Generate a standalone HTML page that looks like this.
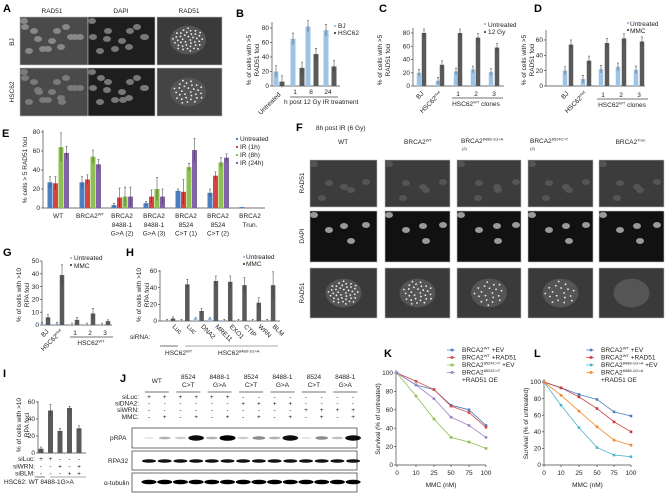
<!DOCTYPE html>
<html><head><meta charset="utf-8"><style>
body{margin:0;background:#fff;}
svg{display:block;font-family:"Liberation Sans",sans-serif;}
</style></head><body>
<svg id="s" width="667" height="493" viewBox="0 0 667 493" xmlns="http://www.w3.org/2000/svg" font-size="6.5" fill="#222">
</svg>
<script>
const S=document.getElementById('s');let h='';
function t(x,y,s,o={}){h+=`<text x="${x}" y="${y}" font-size="${o.fs||6.5}" ${o.b?'font-weight="bold"':''} text-anchor="${o.a||'start'}" ${o.r?`transform="rotate(${o.r} ${x} ${y})"`:''} fill="${o.c||'#222'}">${s}</text>`;}
function sp(b,s,after=''){return `${b}<tspan font-size="4" dy="-2.5">${s}</tspan><tspan dy="2.5">${after}</tspan>`;}
function L(x1,y1,x2,y2,c='#444',w=0.7){h+=`<line x1="${x1}" y1="${y1}" x2="${x2}" y2="${y2}" stroke="${c}" stroke-width="${w}"/>`;}
function R(x,y,w,hh,c,st=''){h+=`<rect x="${x}" y="${y}" width="${w}" height="${hh}" fill="${c}" ${st}/>`;}
function P(l){t(l[1],l[2],l[0],{fs:11,b:1,c:'#000'});}
function axis(x,y0,ytop,ticks,scale,xend){L(x,y0,x,ytop);L(x,y0,xend,y0);ticks.forEach(v=>{let y=y0-v*scale;L(x-2,y,x,y);t(x-3,y+2.2,v,{a:'end'});});}
function bar(x,y0,v,scale,c,w=5,e=3){R(x-w/2,y0-v*scale,w,v*scale,c);if(e){L(x,y0-v*scale-e*scale,x,y0-v*scale+e*scale,'#333',0.5);L(x-1,y0-v*scale-e*scale,x+1,y0-v*scale-e*scale,'#333',0.5);}}
const LB='#9dc3e6',DG='#5a5a5a';
function img(x,y,w,hh,bg,n,cells){R(x,y,w,hh,bg,'stroke="#bbb" stroke-width="0.6"');for(let i=0;i<n;i++){let cx=x+4+((i*37)%(w-8)),cy=y+4+((i*23+i*i*3)%(hh-8));h+=`<ellipse cx="${cx}" cy="${cy}" rx="4" ry="3" fill="${cells}"/>`;}}
function foci(x,y,w,hh,bg,n,cx,cy,r){R(x,y,w,hh,bg,'stroke="#bbb" stroke-width="0.6"');h+=`<ellipse cx="${cx}" cy="${cy}" rx="${r}" ry="${r*0.8}" fill="#555"/>`;for(let i=0;i<n;i++){let a=i*2.4,rr=r*0.85*Math.sqrt((i+1)/n);h+=`<circle cx="${cx+rr*Math.cos(a)}" cy="${cy+rr*Math.sin(a)*0.8}" r="0.9" fill="#eee"/>`;}}
// A
P(['A',3,12]);t(52,13,'RAD51',{a:'middle'});t(121,13,'DAPI',{a:'middle'});t(189,13,'RAD51',{a:'middle'});
t(14,42,'BJ',{a:'middle',r:-90});t(14,92,'HSC62',{a:'middle',r:-90});
img(20,17,68,48,'#4a4a4a',14,'#888');img(88,17,67,48,'#1e1e1e',12,'#777');foci(157,17,65,48,'#3a3a3a',40,188,40,18);
img(20,68,68,48,'#4a4a4a',16,'#7a7a7a');img(88,68,67,48,'#1e1e1e',14,'#777');foci(157,68,65,48,'#444',30,188,92,18);
// B
P(['B',236,17]);axis(272,86,22,[0,20,40,60,80],0.725,340);
[[276,282,20,6],[293,302,65,25],[308,316,82,44],[326,334,77,27]].forEach(g=>{bar(g[0],86,g[2],0.725,LB,5,8);bar(g[1],86,g[3],0.725,DG,5,8);});
t(251,60,'% of cells with &gt;5',{a:'middle',r:-90});t(259,60,'RAD51 foci',{a:'middle',r:-90});
t(281,95,'Untreated',{a:'end',r:-45});t(295,94,'1',{a:'middle'});t(311,94,'8',{a:'middle'});t(328,94,'24',{a:'middle'});
L(290,97,338,97);t(284,104,'h post 12 Gy IR treatment');
R(334,25,2,2,LB);t(338,28,'BJ');R(334,32,2,2,DG);t(338,35,'HSC62');
// C
P(['C',379,12]);axis(413,86,28,[0,20,40,60,80],0.6625,504);
[[419,424,20,80],[438,442,8,32],[456,460,22,80],[473,478,25,73],[491,497,21,58]].forEach(g=>{bar(g[0],86,g[2],0.6625,LB,4.5,5);bar(g[1],86,g[3],0.6625,DG,4.5,6);});
t(382,60,'% of cells with &gt;5',{a:'middle',r:-90});t(390,60,'RAD51 foci',{a:'middle',r:-90});
t(424,94,'BJ',{a:'end',r:-45});t(442,94,sp('HSC62','mut'),{a:'end',r:-45});
t(458,96,'1',{a:'middle'});t(476,96,'2',{a:'middle'});t(494,96,'3',{a:'middle'});L(452,98,503,98);t(476,106,sp('HSC62','WT',' clones'),{a:'middle'});
R(484,23,2,2,LB);t(488,27,'Untreated');R(484,31,2,2,DG);t(488,34,'12 Gy');
// D
P(['D',534,12]);axis(546,86,30,[0,20,40,60],0.767,645);
[[565,571,20,54],[583,589,9,33],[601,607,22,56],[618,624,25,62],[636,642,21,58]].forEach(g=>{bar(g[0],86,g[2],0.767,LB,4.5,5);bar(g[1],86,g[3],0.767,DG,4.5,6);});
t(526,60,'% of cells with &gt;5',{a:'middle',r:-90});t(534,60,'RAD51 foci',{a:'middle',r:-90});
t(569,94,'BJ',{a:'end',r:-45});t(587,94,sp('HSC62','mut'),{a:'end',r:-45});
t(603,97,'1',{a:'middle'});t(621,97,'2',{a:'middle'});t(639,97,'3',{a:'middle'});L(597,99,648,99);t(622,107,sp('HSC62','WT',' clones'),{a:'middle'});
R(627,22,2,2,LB);t(630,26,'Untreated');R(627,29,2,2,DG);t(630,33,'MMC');
// E
P(['E',2,137]);axis(43,208,130,[0,20,40,60,80],0.95,265);
const EC=['#4a7fc1','#d64541','#8cc04f','#8462aa'];
const EV=[[27,26,64,58],[27,30,54,46],[3,11,12,12],[5,12,20,12],[18,17,43,61],[16,34,48,53],[1,0.5,0,0]];
const EE=[[6,7,15,7],[6,5,7,5],[2,10,10,10],[2,7,12,8],[2,13,4,12],[4,4,5,4],[0,0,0,0]];
EV.forEach((g,i)=>{let s=50+i*32;g.forEach((v,j)=>{if(v>0)bar(s+j*5.5,208,v,0.95,EC[j],5,EE[i][j]);});});
t(27,170,'% cells &gt; 5 RAD51 foci',{a:'middle',r:-90});
const EL=[['WT'],[sp('BRCA2','WT')],['BRCA2','8488-1','G&gt;A (2)'],['BRCA2','8488-1','G&gt;A (3)'],['BRCA2','8524','C&gt;T (1)'],['BRCA2','8524','C&gt;T (2)'],['BRCA2','Trun.']];
EL.forEach((g,i)=>g.forEach((s,k)=>t(58+i*32,218+k*8.8,s,{a:'middle'})));
['Untreated','IR (1h)','IR (8h)','IR (24h)'].forEach((s,i)=>{R(236,138+i*8,2,2,EC[i]);t(240,141+i*8,s);});
// F
P(['F',296,131]);t(316,130,'8h post IR (6 Gy)');
t(343,144,'WT',{a:'middle'});t(418,144,sp('BRCA2','WT'),{a:'middle'});t(461,143,sp('BRCA2','8488-1G&gt;A'));t(530,143,sp('BRCA2','8524C&gt;T'));t(631,144,sp('BRCA2','Trun.'),{a:'middle'});
t(462,150,'(2)',{fs:4});t(530,150,'(2)',{fs:4});
t(304,183,'RAD51',{a:'middle',r:-90});t(304,236,'DAPI',{a:'middle',r:-90});t(304,293,'RAD51',{a:'middle',r:-90});
[[310,67],[385,65],[457,64],[528,65],[599,65]].forEach((c,i)=>{img(c[0],160,c[1],47,'#3c3c3c',6,'#555');img(c[0],211,c[1],51,'#111',5,'#999');foci(c[0],268,c[1],50,'#3a3a3a',[40,30,20,18,0][i],c[0]+c[1]/2,293,18);});
// G
P(['G',3,256]);axis(42,325,261,[0,10,20,30,40,50],1.28,112);
[[42,48,1,6,2],[57,62,1,39,8],[72,77,0.5,4,2],[87,93,0.5,9,4],[102,108,0.5,3,1]].forEach(g=>{bar(g[0],325,g[2],1.28,LB,4.5,1);bar(g[1],325,g[3],1.28,DG,4.5,g[4]);});
t(21,295,'% of cells with &gt;10',{a:'middle',r:-90});t(29,295,'RPA foci',{a:'middle',r:-90});
t(49,332,'BJ',{a:'end',r:-45});t(63,332,sp('HSC62','mut'),{a:'end',r:-45});
t(75,335,'1',{a:'middle'});t(90,335,'2',{a:'middle'});t(105,335,'3',{a:'middle'});L(70,337,113,337);t(91,345,sp('HSC62','WT'),{a:'middle'});
R(70,257,2,2,LB);t(74,260,'Untreated');R(70,264,2,2,DG);t(74,268,'MMC');
// H
P(['H',126,256]);axis(160,321,270,[0,20,40,60],0.833,280);
[[3,1],[44,1],[12,3],[48,3],[47,1],[43,1],[22,1],[43,1]].forEach((v,i)=>{let x=173+i*14.3;bar(x-6,321,v[1],0.833,LB,4,1);bar(x,321,v[0],0.833,DG,4.5,[2,6,3,6,7,9,6,16][i]);});
t(141,295,'% of cells with &gt;10',{a:'middle',r:-90});t(149,295,'RPA foci',{a:'middle',r:-90});
t(130,339,'siRNA:');['Luc','Luc','DNA2','MRE11','EXO1','CTIP','WRN','BLM'].forEach((s,i)=>t(172+i*14.3,327,s,{r:45}));
L(160,346,178,346);L(185,346,278,346,'#aaa',1);t(165,355,sp('HSC62','WT'));t(218,355,sp('HSC62','8488-1G&gt;A'));
R(243,256,2,2,LB);t(246,259,'Untreated');R(243,263,2,2,DG);t(246,266,'MMC');
// I
P(['I',3,377]);axis(38,453,401,[0,20,40,60],0.85,86);
[[5,2],[50,7],[26,3],[53,2],[29,3]].forEach((v,i)=>bar(41+i*9.5,453,v[0],0.85,DG,5,v[1]));
t(21,425,'% of cells with &gt;10',{a:'middle',r:-90});t(29,425,'RPA foci',{a:'middle',r:-90});
[['siLuc:',['+','+','-','-','-']],['siWRN:',['-','-','+','-','+']],['siBLM:',['-','-','-','+','+']]].forEach((r,k)=>{let y=461+k*7.3;t(35,y,r[0],{a:'end'});r[1].forEach((s,i)=>t(41+i*9.5,y,s,{a:'middle'}));});
L(35,477,45,477);L(50,477,86,477,'#aaa',1);t(4,484,'HSC62: WT 8488-1G&gt;A');
// J
P(['J',120,382]);
const jx=i=>149+i*15.7;
const gh=[['WT'],['8524','C&gt;T'],['8488-1','G&gt;A'],['8524','C&gt;T'],['8488-1','G&gt;A'],['8524','C&gt;T'],['8488-1','G&gt;A']];
gh.forEach((g,i)=>{let cx=(jx(2*i)+jx(2*i+1))/2;if(g.length==1)t(cx,383,g[0],{a:'middle'});else{t(cx,379,g[0],{a:'middle'});t(cx,387,g[1],{a:'middle'});}L(cx-12,392,cx+12,392);});
const rows=[['siLuc:','++++++--------'],['siDNA2:','------++++----'],['siWRN:','----------++++'],['MMC:','-+-+-+-+-+-+-+']];
rows.forEach((r,k)=>{let y=399+k*6.6;t(139,y,r[0],{a:'end'});[...r[1]].forEach((s,i)=>t(jx(i),y,s,{a:'middle'}));});
R(132,428,225,20,'#fff','stroke="#333" stroke-width="0.7"');R(132,451,225,19,'#fff','stroke="#333" stroke-width="0.7"');R(132,473,225,19,'#fff','stroke="#333" stroke-width="0.7"');
t(110,440,'pRPA');t(108,463,'RPA32');t(104,485,'α-tubulin');
const pr=[0.1,0.3,0.2,0.95,0.3,1,0.2,0.45,0.3,0.95,0.1,0.45,0.25,0.95];
pr.forEach((v,i)=>{h+=`<ellipse cx="${jx(i)}" cy="438" rx="${5+v*3}" ry="${0.8+v*2}" fill="rgba(0,0,0,${v})"/>`;h+=`<ellipse cx="${jx(i)}" cy="461" rx="7" ry="1.8" fill="#111"/>`;h+=`<ellipse cx="${jx(i)}" cy="482" rx="7.5" ry="2.3" fill="#000"/>`;});
// K & L
function line(ax,y0,top,xs,data,cols,title,tx,lx,ly,labels){L(ax,y0,ax,top-3);L(ax,y0,xs[5],y0);[0,20,40,60,80,100].forEach(v=>{let y=y0-v*(y0-top)/100;L(ax-2,y,ax,y);t(ax-3,y+2.2,v,{a:'end'});});
 ['0','10','25','50','75','100'].forEach((s,i)=>{L(xs[i],y0,xs[i],y0+2);t(xs[i],y0+10,s,{a:'middle'});});
 t((ax+xs[5])/2,y0+22,'MMC (nM)',{a:'middle'});t(ax-16,(y0+top)/2,'Survival (% of untreated)',{a:'middle',r:-90});
 data.forEach((d,k)=>{let pts=d.map((v,i)=>`${xs[i]},${y0-v*(y0-top)/100}`).join(' ');h+=`<polyline points="${pts}" fill="none" stroke="${cols[k]}" stroke-width="0.8"/>`;d.forEach((v,i)=>R(xs[i]-1.3,y0-v*(y0-top)/100-1.3,2.6,2.6,cols[k]));});
 labels.forEach((s,k)=>{let y=ly+k*7.5;if(k<4){L(lx-5,y-2,lx+3,y-2,cols[k]);R(lx-1.3,y-3.3,2.6,2.6,cols[k]);}t(lx+10,y,s);});
 P([title,tx,357]);}
line(396,465,373,[397,416,434,451,469,486],[[100,87,82,65,60,43],[100,91,82,64,57,41],[100,75,50,30,25,18],[100,87,72,52,43,30]],['#4a7fc1','#d64541','#8cc04f','#9b7fc7'],'K',384,452,352,[sp('BRCA2','WT',' +EV'),sp('BRCA2','WT',' +RAD51'),sp('BRCA2','8524C&gt;T',' +EV'),sp('BRCA2','8524C&gt;T'),'+RAD51 OE']);
line(544,465,382,[544,561,579,597,614,631],[[100,93,85,79,64,59],[100,93,82,68,52,40],[100,72,45,21,12,10],[100,84,65,46,30,24]],['#4a7fc1','#c9383a','#4fb3cf','#f08a2c'],'L',534,591,352,[sp('BRCA2','WT',' +EV'),sp('BRCA2','WT',' +RAD51'),sp('BRCA2','8488-1G&gt;A',' +EV'),sp('BRCA2','8488-1G&gt;A'),'+RAD51 OE']);
S.innerHTML=h;
</script>
</body></html>
